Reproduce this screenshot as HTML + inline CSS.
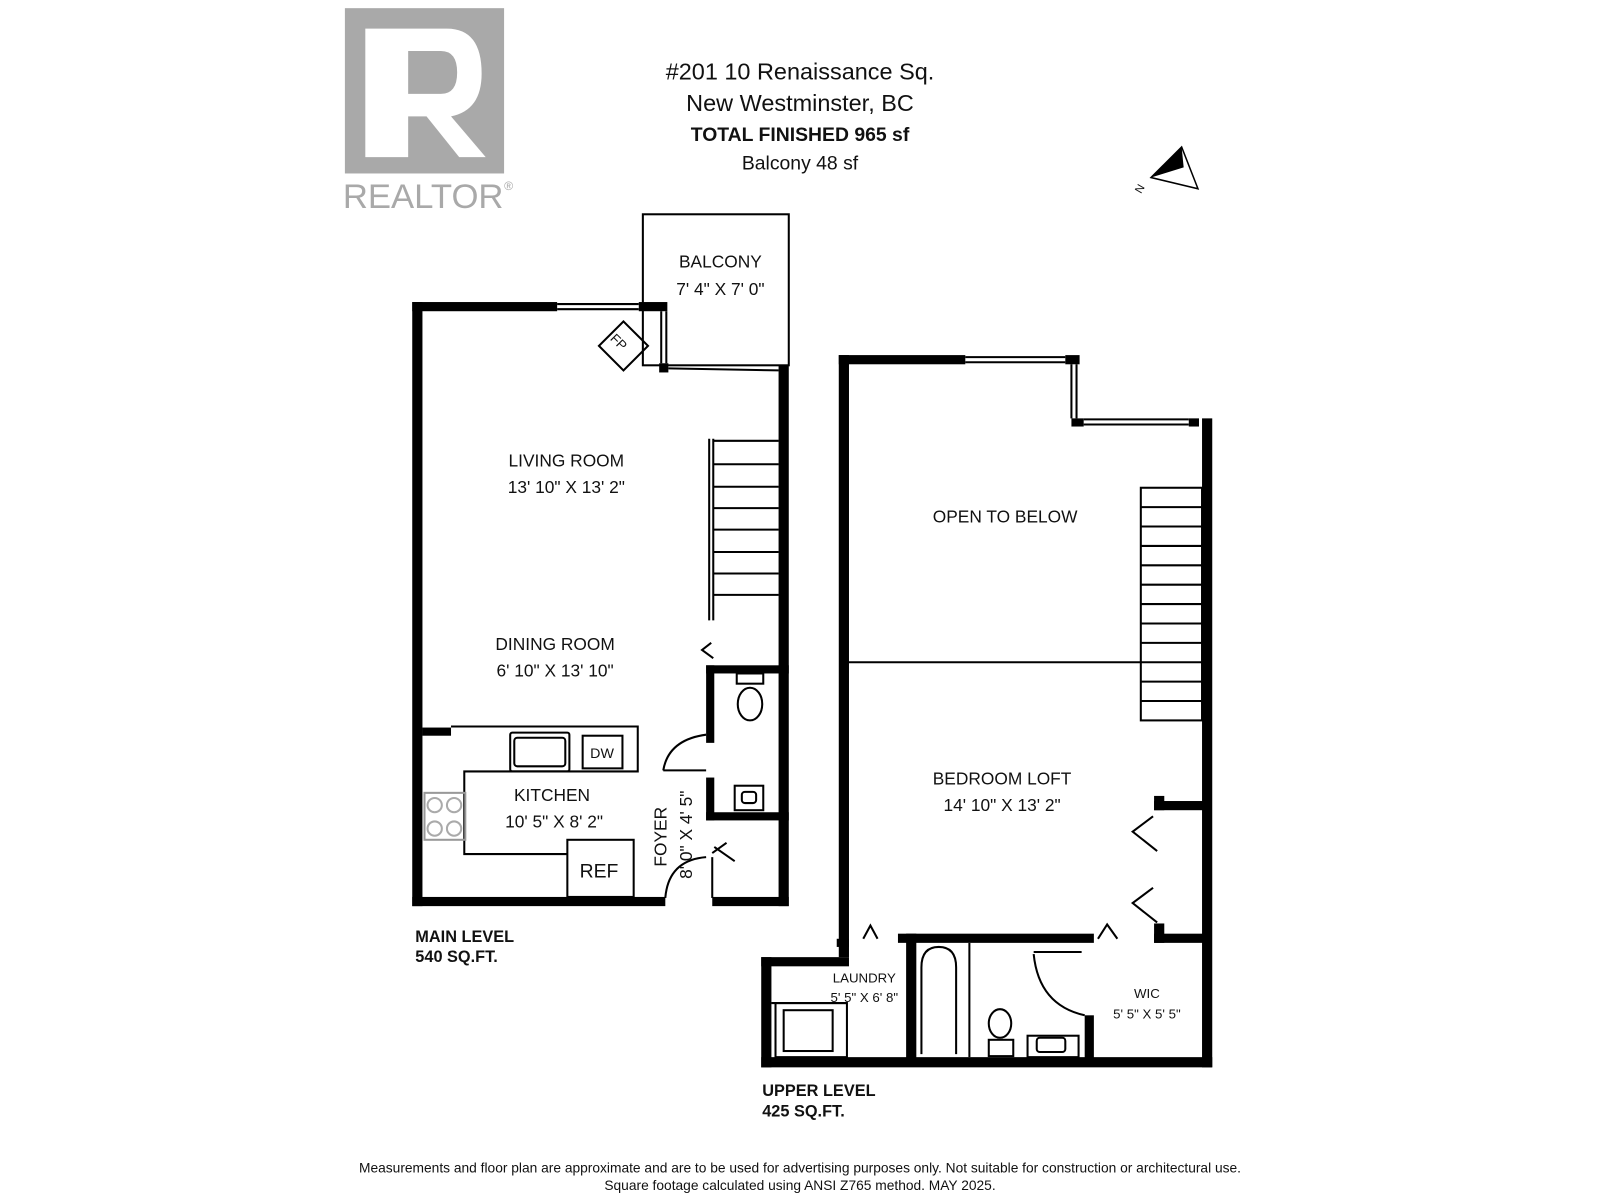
<!DOCTYPE html>
<html><head><meta charset="utf-8"><style>
html,body{margin:0;padding:0;background:#fff;}
svg{display:block;}
text{font-family:"Liberation Sans",sans-serif;fill:#111;}
</style></head><body>
<svg width="1600" height="1200" viewBox="0 0 1568 1176" xmlns="http://www.w3.org/2000/svg">
<!-- REALTOR logo -->
<rect x="338" y="8" width="156" height="162" fill="#a9a9a9"/>
<path d="M358 28 H438 Q472 28 472 72 Q472 108 442 114 L476 154 H450 L418 114 H400 V154 H358 Z M400 50 V92 H432 Q448 92 448 71 Q448 50 432 50 Z" fill="#fff"/>
<text x="336" y="204" font-size="34" fill="#a9a9a9" style="fill:#a9a9a9">REALTOR</text>
<text x="494" y="186" font-size="12" style="fill:#a9a9a9">®</text>
<!-- header -->
<g text-anchor="middle" font-size="23">
<text x="784" y="78">#201 10 Renaissance Sq.</text>
<text x="784" y="109">New Westminster, BC</text>
<text x="784" y="138" font-weight="bold" font-size="19">TOTAL FINISHED  965 sf</text>
<text x="784" y="166" font-size="19">Balcony   48 sf</text>
</g>
<!-- compass -->
<path d="M1128 174 L1158 144 L1174 185 Z" fill="none" stroke="#000" stroke-width="1.5"/>
<path d="M1128 174 L1158 144 L1160 164 Z" fill="#000"/>
<text x="1110" y="188" font-size="11" transform="rotate(-60 1116 182)">N</text>

<g fill="#000">
<rect x="404" y="296" width="10" height="592"/>
<rect x="404" y="296" width="142" height="9"/>
<rect x="626" y="296" width="28" height="9"/>
<rect x="646" y="356" width="9" height="9"/>
<rect x="763" y="358" width="10" height="530"/>
<rect x="404" y="879" width="248" height="9"/>
<rect x="698" y="879" width="75" height="9"/>
<rect x="692" y="652" width="81" height="8"/>
<rect x="692" y="652" width="8" height="76"/>
<rect x="692" y="762" width="8" height="42"/>
<rect x="692" y="796" width="81" height="8"/>
<rect x="414" y="713" width="28" height="8"/>
</g>
<g fill="none" stroke="#000" stroke-width="2">
<rect x="630" y="210" width="143" height="148"/>
<line x1="546" y1="298" x2="626" y2="298"/><line x1="546" y1="303" x2="626" y2="303"/>
<line x1="648" y1="305" x2="648" y2="356"/><line x1="653" y1="305" x2="653" y2="356"/>
<line x1="655" y1="361" x2="763" y2="363"/>
<rect x="594" y="322" width="34" height="34" transform="rotate(45 611 339)"/>
<line x1="695" y1="430" x2="695" y2="608"/><line x1="699" y1="430" x2="699" y2="608"/>
<path d="M699 432 H763 M699 455 H763 M699 477 H763 M699 498 H763 M699 519 H763 M699 541 H763 M699 562 H763 M699 583 H763"/>
<path d="M697 630 L688 637 L699 645"/>
<path d="M442 712 H625 V756 H455 V837 H556"/>
<rect x="556" y="823" width="65" height="56"/>
<rect x="500" y="718" width="58" height="38" rx="2"/>
<rect x="504" y="723" width="50" height="28" rx="3"/>
<rect x="571" y="721" width="39" height="32"/>
<rect x="416" y="777" width="40" height="46" stroke="#999"/>
<circle cx="426" cy="789" r="7" stroke="#aaa"/><circle cx="445" cy="789" r="7" stroke="#aaa"/>
<circle cx="426" cy="812" r="7" stroke="#aaa"/><circle cx="445" cy="812" r="7" stroke="#aaa"/>
<path d="M650 755 Q655 725 692 720"/>
<line x1="650" y1="755" x2="692" y2="755"/>
<ellipse cx="735" cy="690" rx="12" ry="16"/>
<rect x="722" y="660" width="26" height="10"/>
<rect x="720" y="770" width="28" height="24"/>
<rect x="727" y="776" width="14" height="11" rx="3"/>
<path d="M652 880 Q655 843 692 840"/>
<line x1="698" y1="840" x2="698" y2="880"/>
<path d="M700 830 L720 844 M698 836 L712 826"/>
</g>
<g fill="#000">
<rect x="822" y="348" width="10" height="590"/>
<rect x="822" y="348" width="124" height="9"/>
<rect x="1044" y="348" width="14" height="9"/>
<rect x="1050" y="410" width="12" height="8"/>
<rect x="1165" y="410" width="10" height="8"/>
<rect x="1178" y="410" width="10" height="636"/>
<rect x="746" y="1036" width="442" height="10"/>
<rect x="746" y="938" width="10" height="108"/>
<rect x="746" y="938" width="86" height="9"/>
<rect x="820" y="920" width="12" height="8"/>
<rect x="880" y="915" width="192" height="9"/>
<rect x="888" y="915" width="10" height="130"/>
<rect x="1063" y="995" width="9" height="50"/>
<rect x="1131" y="785" width="52" height="9"/>
<rect x="1131" y="780" width="10" height="14"/>
<rect x="1131" y="915" width="52" height="9"/>
<rect x="1131" y="905" width="10" height="19"/>
</g>
<g fill="none" stroke="#000" stroke-width="2">
<line x1="946" y1="350" x2="1044" y2="350"/><line x1="946" y1="355" x2="1044" y2="355"/>
<line x1="1050" y1="357" x2="1050" y2="410"/><line x1="1055" y1="357" x2="1055" y2="410"/>
<line x1="1062" y1="411" x2="1165" y2="411"/><line x1="1062" y1="416" x2="1165" y2="416"/>
<line x1="832" y1="649" x2="1118" y2="649"/>
<rect x="1118" y="478" width="60" height="228"/>
<path d="M1118 497 H1178 M1118 516 H1178 M1118 535 H1178 M1118 554 H1178 M1118 573 H1178 M1118 592 H1178 M1118 611 H1178 M1118 630 H1178 M1118 649 H1178 M1118 668 H1178 M1118 687 H1178"/>
<path d="M1130 800 L1110 815 L1134 834 M1130 870 L1110 885 L1134 904"/>
<path d="M846 920 L853 907 L860 920 M1076 920 L1085 906 L1095 920"/>
<path d="M1013 935 Q1018 985 1063 995"/>
<line x1="1013" y1="933" x2="1060" y2="933"/>
<line x1="756" y1="983" x2="830" y2="983"/>
<rect x="760" y="983" width="70" height="53"/>
<rect x="768" y="990" width="48" height="40"/>
<path d="M903 1033 V948 Q903 928 920 928 Q937 928 937 948 V1033"/>
<line x1="950" y1="924" x2="950" y2="1036"/>
<ellipse cx="980" cy="1003" rx="11" ry="14"/>
<rect x="969" y="1019" width="24" height="16"/>
<rect x="1007" y="1015" width="50" height="21"/>
<rect x="1016" y="1017" width="28" height="14" rx="3"/>
</g>
<g text-anchor="middle" font-size="17">
<text x="706" y="262">BALCONY</text>
<text x="706" y="289">7' 4" X 7' 0"</text>
<text x="605" y="344" font-size="13" transform="rotate(45 611 339)">FP</text>
<text x="555" y="457">LIVING ROOM</text>
<text x="555" y="483">13' 10" X 13' 2"</text>
<text x="544" y="637">DINING ROOM</text>
<text x="544" y="663">6' 10" X 13' 10"</text>
<text x="541" y="785">KITCHEN</text>
<text x="543" y="811">10' 5" X 8' 2"</text>
<text x="590" y="743" font-size="14">DW</text>
<text x="587" y="860" font-size="19">REF</text>
<text x="653" y="820" transform="rotate(-90 653 820)">FOYER</text>
<text x="678" y="818" transform="rotate(-90 678 818)">8' 0" X 4' 5"</text>
<text x="985" y="512">OPEN TO BELOW</text>
<text x="982" y="769">BEDROOM LOFT</text>
<text x="982" y="795">14' 10" X 13' 2"</text>
<text x="847" y="963" font-size="13">LAUNDRY</text>
<text x="847" y="982" font-size="13">5' 5" X 6' 8"</text>
<text x="1124" y="978" font-size="13">WIC</text>
<text x="1124" y="998" font-size="13">5' 5" X 5' 5"</text>
</g>
<g font-size="16" font-weight="bold">
<text x="407" y="923">MAIN LEVEL</text>
<text x="407" y="943">540 SQ.FT.</text>
<text x="747" y="1074">UPPER LEVEL</text>
<text x="747" y="1094">425 SQ.FT.</text>
</g>
<g text-anchor="middle" font-size="13.5">
<text x="784" y="1149">Measurements and floor plan are approximate and are to be used for advertising purposes only. Not suitable for construction or architectural use.</text>
<text x="784" y="1166">Square footage calculated using ANSI Z765 method. MAY 2025.</text>
</g>
</svg>
</body></html>
